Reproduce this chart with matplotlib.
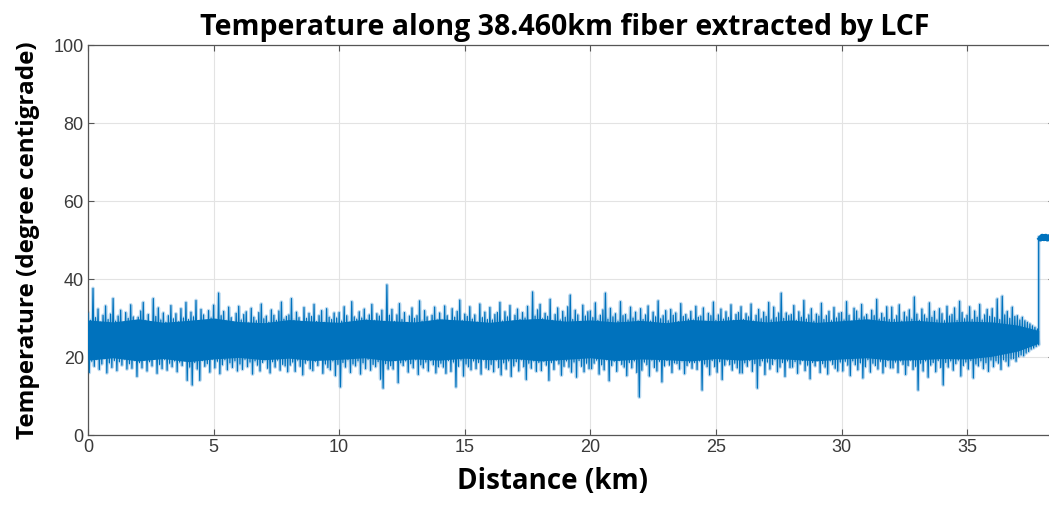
import numpy as np
import matplotlib.pyplot as plt

# -----------------------------
# Temperature profile (deg C) along the fiber
# local peak / trough of the trace every 0.1 km, one row = 2 km
# -----------------------------
step_km = 0.1
peak_t = [
    31.2, 29.4, 37.6, 30.1, 32.3, 28.9, 30.7, 33.1, 29.6, 31.0, 35.0, 29.2, 30.5, 32.0, 28.8, 31.4, 29.9, 33.4, 30.3, 29.1,
    30.2, 31.8, 34.0, 29.3, 30.9, 28.7, 35.0, 30.4, 32.6, 29.5, 31.3, 28.9, 30.6, 33.2, 29.8, 31.1, 29.0, 32.4, 30.0, 34.0,
    29.6, 31.5, 30.3, 34.5, 29.1, 32.2, 30.8, 28.8, 31.9, 30.0, 33.3, 29.4, 36.4, 30.6, 31.7, 29.2, 32.8, 30.1, 28.9, 31.2,
    33.0, 29.5, 30.9, 31.6, 28.7, 32.5, 30.2, 29.3, 31.4, 33.6, 29.8, 30.5, 28.9, 32.1, 30.7, 29.4, 31.8, 34.1, 29.7, 30.4,
    30.8, 35.0, 29.4, 31.5, 30.1, 28.8, 32.7, 29.9, 31.2, 30.4, 33.5, 29.1, 30.6, 31.9, 28.9, 32.4, 30.2, 29.6, 31.3, 30.0,
    31.4, 29.2, 32.9, 30.6, 28.9, 34.2, 30.3, 29.7, 31.6, 30.0, 32.3, 29.5, 30.8, 33.5, 29.3, 31.1, 30.5, 32.0, 29.0, 38.5,
    30.7, 32.2, 29.1, 30.8, 33.7, 29.6, 31.4, 28.8, 30.5, 32.6, 29.9, 30.6, 34.4, 29.2, 31.9, 30.3, 28.9, 30.7, 32.8, 29.5,
    31.3, 29.4, 33.1, 30.6, 29.0, 32.4, 30.2, 31.7, 34.6, 29.3, 31.0, 30.4, 32.9, 29.7, 30.8, 28.9, 33.6, 30.1, 31.5, 29.6,
    32.7, 29.5, 30.9, 31.4, 34.0, 29.2, 31.6, 30.3, 33.2, 28.9, 30.7, 32.3, 29.6, 31.4, 30.0, 33.0, 29.3, 36.7, 30.5, 32.1,
    33.5, 29.8, 31.2, 30.4, 34.8, 29.3, 30.9, 32.6, 29.5, 31.7, 30.2, 32.9, 35.9, 29.6, 32.0, 30.8, 29.1, 33.3, 30.5, 31.6,
    31.8, 30.1, 33.9, 29.4, 30.7, 32.1, 36.4, 29.7, 32.5, 30.3, 31.1, 29.2, 34.2, 30.6, 30.9, 29.5, 32.8, 30.0, 31.5, 29.3,
    32.4, 29.6, 30.8, 33.1, 29.2, 31.5, 30.3, 34.4, 29.8, 30.6, 31.9, 29.3, 32.2, 30.7, 31.3, 29.1, 33.7, 30.4, 30.9, 29.7,
    31.7, 29.5, 33.0, 30.2, 30.5, 32.6, 29.1, 31.2, 30.6, 34.1, 29.4, 30.8, 32.3, 29.7, 31.6, 30.1, 33.4, 29.3, 30.9, 31.4,
    32.9, 29.6, 31.1, 30.3, 33.6, 29.2, 30.7, 32.2, 29.8, 31.5, 30.4, 34.0, 29.5, 32.8, 30.1, 31.3, 36.4, 29.9, 31.3, 30.6,
    30.9, 33.2, 29.4, 31.6, 30.2, 34.5, 29.7, 30.8, 32.4, 29.2, 31.0, 30.5, 33.8, 29.6, 30.6, 31.7, 29.3, 32.7, 30.0, 31.2,
    31.4, 29.5, 34.2, 30.7, 29.1, 32.5, 31.8, 29.8, 33.5, 30.3, 30.9, 29.4, 32.0, 30.6, 34.8, 29.7, 31.2, 30.1, 32.9, 29.6,
    32.8, 29.6, 30.6, 33.4, 29.2, 31.5, 30.3, 32.1, 29.7, 35.4, 31.0, 29.4, 32.3, 30.8, 29.9, 33.9, 30.2, 31.7, 29.5, 32.4,
    31.1, 29.3, 33.0, 30.5, 30.9, 32.6, 29.4, 34.3, 31.4, 29.8, 30.7, 32.9, 29.6, 31.8, 30.2, 33.5, 29.5, 30.8, 32.2, 30.4,
    32.4, 30.1, 34.9, 29.6, 35.6, 30.8, 31.7, 29.9, 32.8, 30.4, 30.6, 29.5, 30.2, 29.3, 28.9, 28.5, 28.0, 27.6, 27.2,
]
trough_t = [
    16.0, 18.9, 17.6, 19.4, 16.8, 18.2, 19.7, 15.9, 18.5, 17.3, 19.1, 16.5, 18.8, 17.9, 19.5, 16.9, 18.3, 17.1, 19.2, 15.0,
    18.6, 17.2, 19.3, 16.4, 18.8, 17.7, 19.6, 15.8, 18.1, 17.0, 19.4, 16.6, 18.4, 17.5, 19.0, 16.2, 18.7, 17.8, 19.2, 14.0,
    17.4, 12.8, 18.6, 16.9, 14.0, 19.1, 17.6, 18.3, 16.1, 19.5, 17.2, 18.9, 15.7, 18.0, 19.3, 16.7, 18.5, 17.3, 19.0, 16.4,
    18.2, 16.8, 19.4, 17.5, 18.7, 15.6, 19.0, 17.9, 16.4, 18.6, 19.3, 17.1, 15.9, 18.8, 17.4, 19.2, 16.6, 18.1, 17.7, 16.2,
    17.9, 18.7, 16.3, 19.2, 17.6, 15.4, 18.4, 19.1, 17.0, 16.5, 18.9, 17.8, 19.4, 15.8, 18.2, 17.3, 16.7, 19.0, 15.2, 18.1,
    12.3, 18.6, 17.4, 19.3, 16.0, 18.2, 17.7, 19.0, 15.6, 18.5, 17.0, 19.4, 16.6, 18.1, 17.5, 18.8, 14.3, 12.0, 18.3, 16.9,
    17.8, 16.9, 19.2, 13.4, 18.5, 17.8, 19.0, 16.1, 18.3, 17.2, 19.3, 15.5, 18.0, 17.2, 18.7, 16.4, 19.1, 18.0, 15.9, 17.5,
    18.4, 17.4, 15.8, 19.1, 16.3, 18.7, 12.3, 17.6, 19.2, 15.1, 18.2, 17.5, 16.7, 19.0, 17.0, 18.6, 15.6, 19.3, 17.2, 16.8,
    18.1, 16.2, 19.2, 17.3, 15.4, 18.5, 16.9, 19.0, 15.0, 17.7, 18.8, 16.4, 19.3, 17.5, 14.2, 18.4, 17.1, 19.0, 16.3, 18.6,
    16.5, 18.9, 17.9, 14.0, 18.6, 16.8, 19.2, 18.2, 15.3, 17.6, 19.0, 17.4, 16.1, 18.7, 14.8, 19.1, 17.6, 16.2, 18.4, 17.0,
    17.0, 18.4, 19.2, 15.6, 18.0, 16.7, 19.3, 13.9, 17.8, 18.9, 16.3, 19.1, 18.1, 17.4, 15.2, 18.6, 17.2, 19.0, 16.0, 9.7,
    16.6, 18.7, 18.0, 15.1, 19.2, 17.3, 16.4, 18.9, 13.6, 17.7, 19.1, 17.9, 16.0, 18.5, 18.3, 16.9, 19.0, 15.7, 17.8, 18.6,
    17.1, 18.6, 16.8, 19.0, 11.5, 18.2, 17.5, 15.4, 19.1, 17.5, 16.1, 18.8, 14.2, 17.9, 19.2, 18.0, 16.6, 18.4, 17.2, 15.9,
    15.9, 18.5, 17.6, 19.1, 16.3, 18.3, 12.0, 17.8, 19.0, 15.5, 18.7, 16.9, 18.1, 19.3, 16.2, 17.4, 18.6, 15.0, 19.0, 17.3,
    17.4, 18.8, 15.8, 18.2, 19.1, 16.5, 17.9, 14.4, 18.6, 17.7, 19.2, 16.0, 18.3, 17.4, 15.6, 19.0, 18.1, 17.1, 16.4, 18.7,
    16.4, 18.9, 17.9, 15.2, 19.0, 18.0, 16.7, 18.5, 14.6, 17.5, 19.3, 16.1, 18.4, 17.8, 16.9, 18.9, 15.9, 17.6, 19.1, 17.2,
    17.2, 18.7, 16.0, 19.0, 18.1, 15.5, 17.8, 19.2, 16.8, 17.6, 11.5, 18.4, 16.4, 19.0, 14.8, 17.9, 18.6, 16.2, 19.1, 17.3,
    12.8, 18.6, 17.4, 19.0, 16.6, 18.3, 19.2, 15.1, 17.8, 18.7, 16.9, 19.1, 14.6, 18.2, 17.7, 19.0, 17.0, 18.5, 16.3, 19.2,
    17.5, 19.0, 18.4, 16.8, 19.3, 18.9, 17.7, 19.5, 19.6, 18.9, 20.1, 20.5, 20.3, 21.0, 21.4, 22.0, 22.3, 22.7, 23.1,
]

# dense middle of the trace, edges every 1 km (last point at the step)
core_km = list(range(38)) + [37.85]
core_lo = [
    19.2, 19.8, 19.0, 19.6, 18.8, 19.5, 19.9, 19.3, 19.7, 19.1,
    19.4, 19.8, 19.0, 19.5, 19.2, 19.7, 19.3, 19.6, 19.0, 19.4,
    19.8, 19.1, 19.5, 19.3, 19.0, 19.6, 19.2, 19.7, 19.4, 19.0,
    19.5, 19.8, 19.2, 19.3, 19.6, 19.5, 20.2, 21.5, 23.5,
]
core_hi = [
    29.5, 29.0, 29.8, 28.9, 29.4, 30.0, 29.1, 28.8, 29.6, 29.2,
    28.9, 29.7, 29.3, 29.0, 29.8, 29.4, 28.9, 29.6, 29.9, 29.2,
    29.5, 29.0, 29.4, 28.8, 29.6, 29.3, 29.7, 29.0, 29.5, 28.9,
    29.3, 29.8, 29.1, 29.4, 28.9, 29.2, 29.0, 28.2, 26.8,
]

# heated section at the far end
step_pos = 37.85
hot_km = [37.85, 37.92, 37.99, 38.06, 38.13, 38.20, 38.27, 38.34, 38.41, 38.46]
hot_t = [50.8, 50.3, 50.9, 50.4, 50.9, 50.3, 50.8, 50.4, 50.9, 50.5]

fiber_len = 38.46
x_ticks = [0, 5, 10, 15, 20, 25, 30, 35]
y_ticks = [0, 20, 40, 60, 80, 100]

# -----------------------------
# build the trace: peak, trough, peak, trough ...
# -----------------------------
n = len(peak_t)
base = np.arange(n) * step_km
x = np.empty(2 * n)
y = np.empty(2 * n)
x[0::2] = base
x[1::2] = base + step_km / 2
y[0::2] = peak_t
y[1::2] = trough_t

x = np.concatenate([x, [step_pos], hot_km])
y = np.concatenate([y, [core_hi[-1]], hot_t])

# -----------------------------
# plot
# -----------------------------
blue = '#0072BD'
fig = plt.figure(figsize=(10.49, 5.07), dpi=100)
ax = fig.add_axes([88 / 1049, 72 / 507, 966 / 1049, 390 / 507])

# soft halo under the trace so the dense parts read as one band
ax.plot(x, y, color='#4a9ad6', lw=2.6, alpha=0.35, zorder=2)
ax.fill_between(core_km, core_lo, core_hi, color=blue, lw=0, zorder=3)
ax.plot(x, y, color=blue, lw=0.9, zorder=4)
ax.plot(hot_km, hot_t, color=blue, lw=4, solid_capstyle='butt', zorder=4)

ax.set_xlim(0, fiber_len)
ax.set_ylim(0, 100)
ax.set_xticks(x_ticks)
ax.set_yticks(y_ticks)
ax.grid(True, color='#e3e3e3', lw=0.8, zorder=0)
ax.set_axisbelow(True)

for s in ax.spines.values():
    s.set_color('#555555')
    s.set_linewidth(0.9)
ax.tick_params(direction='in', length=4, color='#555555', labelcolor='#3a3a3a',
               labelsize=13, pad=3, top=True, right=True)
for lab in ax.get_xticklabels() + ax.get_yticklabels():
    lab.set_fontfamily('Liberation Sans')

ax.set_title('Temperature along 38.460km fiber extracted by LCF',
             fontfamily='Open Sans', fontweight='bold', fontsize=20.5, pad=7)
ax.title.set_x(0.494)
ax.set_xlabel('Distance (km)', fontfamily='Open Sans', fontweight='bold',
              fontsize=20, labelpad=8)
ax.xaxis.label.set_x(0.481)
ax.set_ylabel('Temperature (degree centigrade)', fontfamily='Open Sans',
              fontweight='bold', fontsize=17.5, labelpad=10)

fig.savefig('out.png', dpi=100)
